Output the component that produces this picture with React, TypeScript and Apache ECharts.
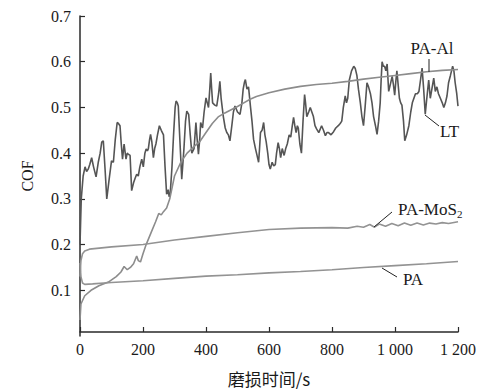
import React, { useEffect, useRef } from "react";
import * as echarts from "echarts";

const xTicks = [0, 200, 400, 600, 800, 1000, 1200];
const yTicks = [0.1, 0.2, 0.3, 0.4, 0.5, 0.6, 0.7];

const paAl: [number, number][] = [
  [0, 0.035], [3, 0.07], [15, 0.088], [35, 0.1], [60, 0.11], [90, 0.118], [115, 0.13],
  [130, 0.14], [140, 0.152], [150, 0.145], [160, 0.15], [170, 0.158], [180, 0.175],
  [185, 0.165], [192, 0.162], [200, 0.18], [210, 0.2], [225, 0.225], [240, 0.25],
  [250, 0.268], [258, 0.265], [265, 0.272], [275, 0.28], [285, 0.3], [300, 0.35],
  [320, 0.38], [340, 0.4], [360, 0.413], [380, 0.425], [400, 0.445], [420, 0.465],
  [440, 0.48], [460, 0.488], [480, 0.495], [500, 0.502], [520, 0.51], [540, 0.518],
  [560, 0.524], [600, 0.532], [650, 0.54], [700, 0.546], [750, 0.55], [800, 0.553],
  [850, 0.557], [900, 0.562], [950, 0.566], [1000, 0.57], [1050, 0.574], [1100, 0.578],
  [1150, 0.581], [1200, 0.583],
];

const lt: [number, number][] = [
  [0, 0.2], [4, 0.3], [10, 0.35], [16, 0.37], [21, 0.36], [26, 0.365], [31, 0.375], [37, 0.39],
  [43, 0.37], [51, 0.348], [58, 0.38], [64, 0.4], [69, 0.424], [74, 0.427], [80, 0.36], [85, 0.3],
  [92, 0.34], [100, 0.383], [106, 0.38], [112, 0.43], [118, 0.467], [122, 0.465], [127, 0.46],
  [131, 0.42], [135, 0.387], [140, 0.42], [146, 0.387], [150, 0.4], [153, 0.398], [159, 0.395],
  [164, 0.318], [170, 0.335], [175, 0.345], [180, 0.354], [185, 0.35], [190, 0.37], [196, 0.387],
  [201, 0.37], [206, 0.4], [210, 0.409], [214, 0.405], [217, 0.41], [221, 0.43], [224, 0.441],
  [228, 0.425], [233, 0.39], [237, 0.41], [241, 0.42], [246, 0.44], [252, 0.46], [258, 0.45],
  [265, 0.44], [270, 0.37], [275, 0.31], [280, 0.32], [283, 0.305], [286, 0.307], [292, 0.37],
  [297, 0.44], [302, 0.5], [305, 0.514], [309, 0.51], [312, 0.503], [317, 0.43], [323, 0.343],
  [330, 0.41], [335, 0.47], [339, 0.492], [345, 0.485], [350, 0.44], [355, 0.4], [362, 0.41],
  [368, 0.467], [372, 0.43], [376, 0.398], [380, 0.43], [383, 0.467], [389, 0.455], [394, 0.49],
  [400, 0.521], [404, 0.51], [408, 0.5], [412, 0.54], [415, 0.575], [418, 0.54], [421, 0.51],
  [428, 0.505], [434, 0.503], [440, 0.53], [444, 0.557], [448, 0.52], [455, 0.48], [461, 0.455],
  [466, 0.445], [471, 0.44], [476, 0.427], [482, 0.46], [487, 0.49], [492, 0.503], [500, 0.49],
  [508, 0.485], [514, 0.51], [518, 0.54], [522, 0.555], [525, 0.561], [530, 0.54], [535, 0.545],
  [541, 0.503], [546, 0.47], [551, 0.43], [557, 0.41], [562, 0.395], [567, 0.38], [570, 0.41],
  [573, 0.445], [578, 0.45], [583, 0.467], [587, 0.44], [591, 0.425], [596, 0.4], [600, 0.375],
  [604, 0.365], [610, 0.38], [615, 0.372], [620, 0.375], [624, 0.4], [629, 0.423], [633, 0.41],
  [637, 0.39], [642, 0.41], [648, 0.395], [653, 0.41], [658, 0.42], [664, 0.44], [669, 0.435],
  [674, 0.46], [678, 0.478], [682, 0.46], [686, 0.445], [690, 0.46], [693, 0.455], [698, 0.42],
  [703, 0.4], [708, 0.47], [713, 0.528], [716, 0.51], [720, 0.48], [726, 0.49], [731, 0.5],
  [736, 0.49], [741, 0.48], [746, 0.46], [751, 0.453], [758, 0.445], [767, 0.46], [773, 0.45],
  [779, 0.438], [784, 0.445], [789, 0.445], [797, 0.44], [805, 0.447], [812, 0.455], [820, 0.46],
  [826, 0.465], [831, 0.47], [836, 0.5], [842, 0.525], [846, 0.51], [850, 0.52], [855, 0.56],
  [862, 0.58], [869, 0.59], [874, 0.585], [879, 0.57], [884, 0.54], [890, 0.51], [895, 0.48],
  [900, 0.46], [905, 0.5], [911, 0.554], [916, 0.545], [922, 0.53], [927, 0.51], [932, 0.48],
  [938, 0.46], [943, 0.441], [948, 0.47], [953, 0.51], [956, 0.56], [959, 0.6], [963, 0.59],
  [967, 0.59], [971, 0.58], [975, 0.595], [980, 0.535], [985, 0.55], [991, 0.568], [995, 0.55],
  [999, 0.527], [1003, 0.56], [1006, 0.58], [1010, 0.55], [1014, 0.52], [1018, 0.51],
  [1022, 0.505], [1027, 0.47], [1031, 0.427], [1037, 0.44], [1044, 0.46], [1050, 0.49],
  [1055, 0.51], [1060, 0.52], [1065, 0.53], [1071, 0.53], [1076, 0.535], [1081, 0.56],
  [1086, 0.586], [1091, 0.54], [1096, 0.485], [1101, 0.52], [1107, 0.56], [1112, 0.52],
  [1117, 0.54], [1123, 0.564], [1128, 0.535], [1133, 0.545], [1138, 0.53], [1144, 0.52],
  [1150, 0.51], [1155, 0.5], [1160, 0.51], [1165, 0.525], [1170, 0.554], [1176, 0.57],
  [1183, 0.59], [1187, 0.58], [1191, 0.554], [1196, 0.53], [1200, 0.503],
];

const paMoS2: [number, number][] = [
  [0, 0.13], [3, 0.165], [8, 0.18], [15, 0.186], [30, 0.19], [100, 0.195], [200, 0.2],
  [300, 0.21], [400, 0.218], [500, 0.226], [600, 0.233], [700, 0.236], [800, 0.237],
  [850, 0.236], [880, 0.24], [900, 0.238], [920, 0.244], [935, 0.238], [950, 0.245],
  [970, 0.24], [990, 0.246], [1010, 0.241], [1030, 0.247], [1050, 0.242], [1070, 0.247],
  [1090, 0.243], [1110, 0.247], [1130, 0.245], [1150, 0.248], [1170, 0.246], [1200, 0.25],
];

const pa: [number, number][] = [
  [0, 0.16], [3, 0.13], [8, 0.116], [15, 0.113], [40, 0.114], [100, 0.117], [200, 0.121],
  [300, 0.126], [400, 0.131], [500, 0.134], [600, 0.138], [700, 0.141], [800, 0.145],
  [900, 0.15], [1000, 0.154], [1100, 0.158], [1200, 0.163],
];

const SERIF = "Liberation Serif";
const AXIS_COLOR = "#2a2a2a";

export default function App() {
  const ref = useRef<HTMLDivElement>(null);

  useEffect(() => {
    document.body.style.margin = "0";
    if (!ref.current) return;
    const chart = echarts.init(ref.current, undefined, { renderer: "svg" });
    const line = (name: string, data: [number, number][], color: string, width: number) => ({
      name,
      type: "line",
      data,
      showSymbol: false,
      symbol: "none",
      lineStyle: { color, width },
      z: name === "LT" ? 2 : 3,
    });
    const txt = (text: string, x: number, y: number, extra: any = {}) => ({
      type: "text",
      x,
      y,
      style: {
        text,
        fontFamily: SERIF,
        fontSize: 17,
        fill: "#1a1a1a",
        align: "center",
        verticalAlign: "middle",
        ...extra,
      },
      z: 10,
    });
    const lead = (x1: number, y1: number, x2: number, y2: number) => ({
      type: "line",
      shape: { x1, y1, x2, y2 },
      style: { stroke: "#222", lineWidth: 1 },
      z: 10,
    });
    chart.setOption({
      animation: false,
      backgroundColor: "#ffffff",
      textStyle: { fontFamily: SERIF },
      grid: { left: 80, right: 26, top: 16, bottom: 53.5, containLabel: false },
      xAxis: {
        type: "value",
        min: 0,
        max: 1200,
        interval: 200,
        offset: -4,
        name: "磨损时间/s",
        nameLocation: "middle",
        nameGap: 38,
        nameTextStyle: {
          fontFamily: "Noto Sans CJK SC",
          fontSize: 17,
          color: "#1a1a1a",
        },
        axisLine: { show: true, lineStyle: { color: AXIS_COLOR, width: 1.5 } },
        axisTick: { show: true, inside: true, length: 5, lineStyle: { color: AXIS_COLOR, width: 1.2 } },
        axisLabel: {
          margin: 9,
          fontFamily: SERIF,
          fontSize: 16,
          color: "#1a1a1a",
          formatter: (v: number) => (xTicks.includes(v) ? (v >= 1000 ? String(v).replace(/^(\d)(\d{3})$/, "$1 $2") : String(v)) : ""),
        },
        splitLine: { show: false },
      },
      yAxis: {
        type: "value",
        min: 0,
        max: 0.7,
        interval: 0.1,
        name: "COF",
        nameLocation: "middle",
        nameGap: 45,
        nameRotate: 90,
        nameTextStyle: { fontFamily: SERIF, fontSize: 16, color: "#1a1a1a" },
        axisLine: { show: true, lineStyle: { color: AXIS_COLOR, width: 1.5 } },
        axisTick: { show: true, inside: true, length: 5, lineStyle: { color: AXIS_COLOR, width: 1.2 } },
        axisLabel: {
          margin: 9,
          fontFamily: SERIF,
          fontSize: 16,
          color: "#1a1a1a",
          showMinLabel: false,
          formatter: (v: number) => {
            const r = Math.round(v * 10) / 10;
            return yTicks.includes(r) ? r.toFixed(1) : "";
          },
        },
        splitLine: { show: false },
      },
      series: [
        line("LT", lt, "#555555", 1.6),
        line("PA-Al", paAl, "#8c8c8c", 1.6),
        line("PA-MoS2", paMoS2, "#939393", 1.6),
        line("PA", pa, "#939393", 1.6),
      ],
      graphic: [
        txt("PA-Al", 432, 48.5),
        lead(429, 59, 429, 72),
        txt("LT", 449.5, 131),
        lead(425, 115, 439, 126),
        {
          type: "text",
          x: 398,
          y: 209,
          style: {
            text: "{a|PA-MoS}{b|2}",
            fontFamily: SERIF,
            fill: "#1a1a1a",
            align: "left",
            verticalAlign: "middle",
            rich: {
              a: { fontFamily: SERIF, fontSize: 17, fill: "#1a1a1a" },
              b: { fontFamily: SERIF, fontSize: 11, fill: "#1a1a1a", padding: [9, 0, 0, 0] },
            },
          },
          z: 10,
        },
        lead(374, 227, 392, 212),
        txt("PA", 413, 279),
        lead(382, 268, 397, 277),
      ],
    });
    return () => chart.dispose();
  }, []);

  return <div ref={ref} style={{ width: 484, height: 392 }} />;
}
